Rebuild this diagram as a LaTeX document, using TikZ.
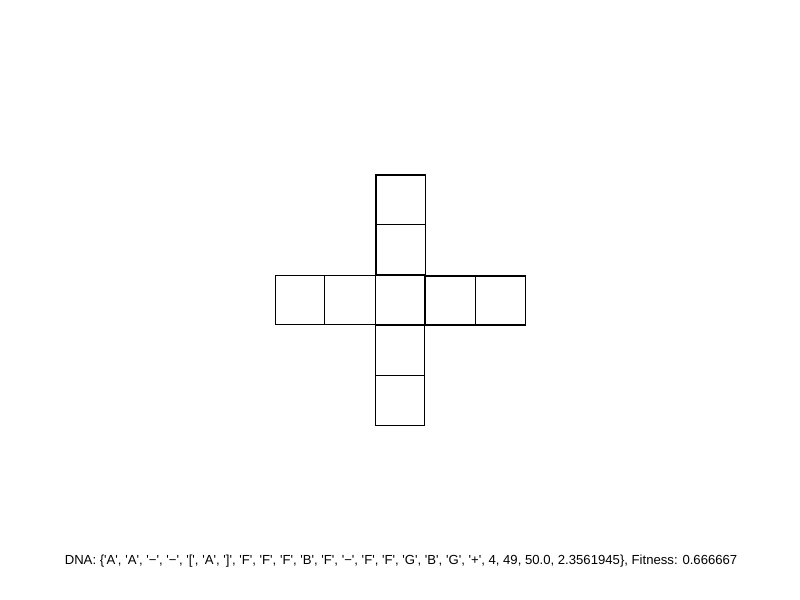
\documentclass[tikz,border=0pt]{standalone}
\usepackage{fontspec}
\newfontfamily\dnafont[Ligatures=ResetAll]{Liberation Sans}
\begin{document}
\begin{tikzpicture}[x=0.75pt,y=-0.75pt,
  cell/.style={draw=black,line width=0.9pt}]
\useasboundingbox (0,0) rectangle (800,600);
% vertical arm
\draw[cell] (376,175) rectangle (425.3,224.3) coordinate (t1);
\draw[cell] (376,224.3) rectangle (425.3,274.8) coordinate (t2);
% horizontal arm
\draw[cell] (275.5,275.5) rectangle (324.8,324.3) coordinate (l2);
\draw[cell] (324.8,275.5) rectangle (375.3,324.3) coordinate (l1);
\draw[cell,line width=1.3pt] (375.5,275.5) rectangle (425.3,325.2) coordinate (c);
\draw[cell] (425.3,276) rectangle (475.8,325) coordinate (r1);
\draw[cell] (475.8,276) rectangle (525.3,325) coordinate (r2);
\draw[cell] (375.5,325.2) rectangle (424.5,375.8) coordinate (b1);
\draw[cell] (375.5,375.8) rectangle (424.5,425.3) coordinate (b2);
\node[anchor=base,inner sep=0pt,font=\dnafont\fontsize{9.85}{12}\selectfont] (dna) at (401,564)
 {DNA: \{'A', 'A', '−', '−', '[', 'A', ']', 'F', 'F', 'F', 'B', 'F', '−', 'F', 'F', 'G', 'B', 'G', '+', 4, 49, 50.0, 2.3561945\}, Fitness: 0.666667};
\end{tikzpicture}
\end{document}
